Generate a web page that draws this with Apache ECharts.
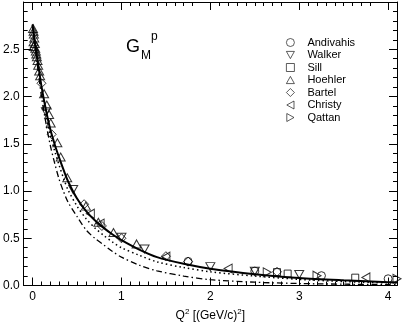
<!DOCTYPE html>
<html>
<head>
<meta charset="utf-8">
<script src="https://cdn.jsdelivr.net/npm/echarts@6/dist/echarts.min.js"></script>
<style>
  html, body { margin: 0; padding: 0; background: #fff; }
  #chart { width: 405px; height: 327px; }
</style>
</head>
<body>
<div id="chart"></div>
<script>
// curves at these Q^2 values
var curveQ2   = [0, 0.02, 0.05, 0.1, 0.15, 0.2, 0.25, 0.3, 0.35, 0.4, 0.5, 0.6, 0.7, 0.8, 0.9, 1.0, 1.2, 1.4, 1.7, 2.0, 2.5, 3.0, 3.5, 4.0, 4.1];
var solidG    = [2.76, 2.61, 2.42, 2.11, 1.86, 1.65, 1.49, 1.35, 1.22, 1.10, 0.92, 0.79, 0.69, 0.61, 0.54, 0.48, 0.38, 0.30, 0.23, 0.178, 0.12, 0.08, 0.055, 0.035, 0.032];
var dottedG   = [2.76, 2.60, 2.40, 2.08, 1.81, 1.59, 1.42, 1.27, 1.13, 1.01, 0.84, 0.71, 0.61, 0.53, 0.46, 0.40, 0.32, 0.25, 0.19, 0.145, 0.10, 0.065, 0.042, 0.028, 0.026];
var dashdotG  = [2.76, 2.58, 2.36, 2.00, 1.72, 1.48, 1.29, 1.12, 0.99, 0.88, 0.73, 0.59, 0.50, 0.43, 0.36, 0.30, 0.215, 0.155, 0.10, 0.062, 0.035, 0.021, 0.014, 0.010, 0.009];

// data sets, [Q^2, G_M^p]
var andivahis = [[1.75, 0.255], [2.5, 0.152], [3.25, 0.104], [4.0, 0.071]];
var walker    = [[0.15, 1.84], [0.457, 1.015], [1.0, 0.51], [1.26, 0.387], [2.0, 0.20], [2.5, 0.15], [3.0, 0.116]];
var sill      = [[2.75, 0.142], [2.87, 0.126], [3.63, 0.083]];
var hoehler   = [[0.005, 2.72], [0.011, 2.69], [0.015, 2.66], [0.019, 2.62], [0.011, 2.58], [0.026, 2.56], [0.013, 2.53], [0.03, 2.51],
                 [0.037, 2.48], [0.042, 2.45], [0.048, 2.42], [0.056, 2.38], [0.063, 2.33], [0.074, 2.27], [0.085, 2.22],
                 [0.13, 2.03], [0.16, 1.91], [0.186, 1.81], [0.204, 1.72], [0.279, 1.51], [0.316, 1.36], [0.39, 1.14],
                 [0.60, 0.84], [0.74, 0.67], [0.91, 0.56], [1.17, 0.44]];
var bartel    = [[0.10, 2.14], [0.215, 1.60], [0.58, 0.86], [0.78, 0.63], [1.0, 0.50], [1.5, 0.31], [1.75, 0.252], [2.75, 0.145]];
var christy   = [[0.65, 0.76], [0.76, 0.655], [1.5, 0.305], [2.2, 0.18], [3.75, 0.085]];
var qattan    = [[2.64, 0.14], [3.2, 0.104], [4.1, 0.071]];

var xTicks = [0, 1, 2, 3, 4];

// open triangles pointing up / down / left / right
var triUp    = 'path://M5,0 L10,9 L0,9 Z';
var triDown  = 'path://M0,0 L10,0 L5,9 Z';
var triLeft  = 'path://M9,0 L9,10 L0,5 Z';
var triRight = 'path://M0,0 L0,10 L9,5 Z';

function pairs(xs, ys) {
  var out = [];
  for (var i = 0; i < xs.length; i++) out.push([xs[i], ys[i]]);
  return out;
}

var font = 'Liberation Sans, Arial, Helvetica, sans-serif';

function scatter(name, data, symbol, size) {
  return {
    name: name,
    type: 'scatter',
    data: data,
    symbol: symbol,
    symbolSize: size,
    itemStyle: { color: 'transparent', borderColor: '#000', borderWidth: 1 },
    emphasis: { disabled: true },
    z: 3
  };
}

function curve(data, type, width) {
  return {
    type: 'line',
    data: data,
    showSymbol: false,
    smooth: 0.3,
    lineStyle: { color: '#000', width: width, type: type },
    emphasis: { disabled: true },
    z: 4
  };
}

var tickStyle = { color: '#000', width: 1 };

var myChart = echarts.init(document.getElementById('chart'));

var option = {
  animation: false,
  grid: { left: 21, right: 8, top: 2, bottom: 34 },
  legend: {
    orient: 'vertical',
    left: 281,
    top: 32,
    itemWidth: 8,
    itemHeight: 8,
    itemGap: 1.5,
    itemStyle: { color: 'transparent', borderColor: '#000', borderWidth: 0.8 },
    textStyle: { fontFamily: font, fontSize: 11, color: '#000', lineHeight: 11, padding: [0, 0, 0, 8] },
    data: ['Andivahis', 'Walker', 'Sill', 'Hoehler', 'Bartel', 'Christy', 'Qattan']
  },
  graphic: [
    { type: 'text', left: 126, top: 38, style: { text: 'G', fontFamily: font, fontSize: 18, fill: '#000' } },
    { type: 'text', left: 141, top: 50, style: { text: 'M', fontFamily: font, fontSize: 12, fill: '#000' } },
    { type: 'text', left: 151, top: 31, style: { text: 'p', fontFamily: font, fontSize: 12, fill: '#000' } }
  ],
  xAxis: [
    {
      type: 'value', min: -0.1, max: 4.1, interval: 1,
      position: 'bottom',
      name: '{n|Q}{s|2}{n| [(GeV/c)}{s|2}{n|]}',
      nameLocation: 'middle', nameGap: 22,
      nameTextStyle: {
        rich: {
          n: { fontFamily: font, fontSize: 12, color: '#000' },
          s: { fontFamily: font, fontSize: 8, color: '#000', padding: [0, 0, 9, 0] }
        }
      },
      axisLine: { show: true, onZero: false, lineStyle: tickStyle },
      axisTick: { show: true, inside: true, length: 8, lineStyle: tickStyle,
        customValues: xTicks },
      minorTick: { show: true, splitNumber: 10, length: 4, lineStyle: tickStyle },
      axisLabel: { fontFamily: font, fontSize: 12, color: '#000', margin: 5,
        customValues: xTicks, formatter: function (v) { return String(v); } },
      splitLine: { show: false }
    },
    {
      type: 'value', min: -0.1, max: 4.1, interval: 1,
      position: 'top',
      axisLine: { show: true, onZero: false, lineStyle: tickStyle },
      axisTick: { show: true, inside: true, length: 8, lineStyle: tickStyle, customValues: xTicks },
      minorTick: { show: true, splitNumber: 10, length: 4, lineStyle: tickStyle },
      axisLabel: { show: false },
      splitLine: { show: false }
    }
  ],
  yAxis: [
    {
      type: 'value', min: 0, max: 3, interval: 0.5,
      position: 'left',
      axisLine: { show: true, onZero: false, lineStyle: tickStyle },
      axisTick: { show: true, inside: true, length: 8, lineStyle: tickStyle },
      minorTick: { show: true, splitNumber: 5, length: 4, lineStyle: tickStyle },
      axisLabel: { fontFamily: font, fontSize: 12, color: '#000', margin: 4,
        formatter: function (v) { return v >= 3 ? '' : v.toFixed(1); } },
      splitLine: { show: false }
    },
    {
      type: 'value', min: 0, max: 3, interval: 0.5,
      position: 'right',
      axisLine: { show: true, onZero: false, lineStyle: tickStyle },
      axisTick: { show: true, inside: true, length: 8, lineStyle: tickStyle },
      minorTick: { show: true, splitNumber: 5, length: 4, lineStyle: tickStyle },
      axisLabel: { show: false },
      splitLine: { show: false }
    }
  ],
  series: [
    curve(pairs(curveQ2, dashdotG), [6, 3, 1.5, 3], 1.3),
    curve(pairs(curveQ2, dottedG), [1.5, 3], 1.5),
    curve(pairs(curveQ2, solidG), 'solid', 2),
    scatter('Andivahis', andivahis, 'circle', 8),
    scatter('Walker', walker, triDown, [9, 8]),
    scatter('Sill', sill, 'rect', 7),
    scatter('Hoehler', hoehler, triUp, [9, 8]),
    scatter('Bartel', bartel, 'diamond', 9),
    scatter('Christy', christy, triLeft, [8, 9]),
    scatter('Qattan', qattan, triRight, [8, 9])
  ]
};

myChart.setOption(option);
</script>
</body>
</html>
